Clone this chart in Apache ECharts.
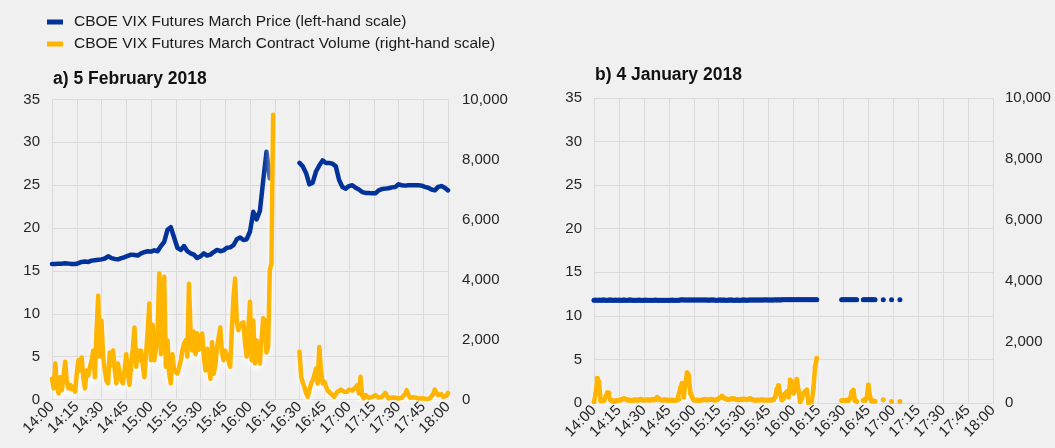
<!DOCTYPE html>
<html>
<head>
<meta charset="utf-8">
<script src="https://cdn.jsdelivr.net/npm/echarts@6/dist/echarts.min.js"></script>
<style>
  html, body { margin: 0; background: #f0f0f0; }
  #chart { width: 1055px; height: 448px; }
</style>
</head>
<body>
<div id="chart"></div>
<script>
// minutes after 14:00; price every 2 min, volume every minute (null = trading halt / no trades)
var PRICE_NAME = 'CBOE VIX Futures March Price (left-hand scale)';
var VOL_NAME = 'CBOE VIX Futures March Contract Volume (right-hand scale)';
var TIME_TICKS = ['14:00', '14:15', '14:30', '14:45', '15:00', '15:15', '15:30', '15:45', '16:00',
  '16:15', '16:30', '16:45', '17:00', '17:15', '17:30', '17:45', '18:00'];

// a) 5 February 2018
var febPrice = [
  15.8, 15.8, 15.85, 15.85, 15.9, 15.85, 15.8, 15.8, 15.9, 16.05,
  16.1, 16.05, 16.2, 16.25, 16.3, 16.35, 16.45, 16.7, 16.5, 16.4,
  16.35, 16.5, 16.6, 16.75, 16.9, 16.85, 16.8, 17.05, 17.2, 17.3,
  17.25, 17.4, 17.3, 17.9, 18.4, 19.8, 20.1, 18.9, 17.7, 17.45,
  17.9, 17.3, 17.05, 16.9, 16.5, 16.7, 17.05, 16.8, 16.9, 17.2,
  17.45, 17.3, 17.4, 17.7, 17.75, 18.0, 18.7, 18.9, 18.6, 18.7,
  19.6, 21.9, 21.0, 22.0, 25.5, 28.9, 25.8,
  null, null, null, null, null, null, null, null,
  27.6, 27.2, 26.4, 25.1, 25.3, 26.6, 27.3, 27.9, 27.6, 27.6,
  27.5, 27.2, 25.6, 24.8, 24.6, 24.9, 25.0, 24.7, 24.5, 24.2,
  24.1, 24.1, 24.05, 24.05, 24.4, 24.55, 24.6, 24.65, 24.75, 24.8,
  25.1, 25.0, 24.95, 25.0, 25.0, 25.0, 25.0, 24.95, 24.8, 24.7,
  24.5, 24.4, 24.8, 24.9, 24.7, 24.4
];
var febVolume = [
  690, 370, 1200, 430, 200, 740, 310, 800, 1260, 570,
  370, 490, 340, 430, 260, 860, 1310, 970, 1400, 710,
  370, 970, 800, 1090, 1290, 1630, 740, 2290, 3460, 1430,
  2630, 1430, 970, 630, 540, 1570, 1140, 1630, 1000, 540,
  1200, 860, 630, 540, 1000, 1510, 860, 490, 1200, 1710,
  2400, 1090, 1630, 1310, 1630, 1140, 740, 1510, 2290, 3200,
  1310, 2490, 1310, 1710, 2310, 4200, 1510, 2570, 4090, 1090,
  1970, 860, 540, 1510, 970, 910, 860, 860, 1290, 1630,
  1860, 1970, 1430, 3860, 2290, 1630, 2260, 1510, 2200, 1660,
  1630, 2200, 1430, 970, 1690, 1140, 690, 1910, 860, 1140,
  1740, 1710, 2400, 1570, 1310, 1630, 1630, 1290, 1090, 2310,
  3430, 4030, 2570, 2310, 2510, 2570, 2570, 1860, 1430, 2400,
  3260, 1310, 2630, 1200, 1970, 1970, 1200, 2000, 2710, 2630,
  1570, 1770, 4310, 4540, 9490,
  null, null, null, null, null, null, null, null, null, null, null, null, null, null, null,
  1590, 760, 560, 420, 200, 90, 320, 530, 640, 820,
  1030, 530, 1750, 980, 530, 600, 640, 300, 250, 200,
  150, 90, 180, 255, 300, 330, 370, 260, 200, 260,
  330, 370, 300, 255, 400, 480, 200, 755, 120, 35,
  145, 100, 60, 35, 80, 110, 145, 100, 60, 35,
  90, 150, 220, 120, 35, 50, 70, 90, 60, 40,
  35, 40, 55, 65, 180, 310, 150, 60, 35, 80,
  110, 50, 10, 30, 55, 40, 20, 10, 30, 40,
  45, 180, 330, 220, 145, 160, 180, 90, 35, 120,
  220
];

// b) 4 January 2018 (every minute)
var janPrice = [
  11.8, 11.82, 11.8, 11.81, 11.8, 11.83, 11.82, 11.8, 11.8, 11.81, 11.82, 11.8, 11.8, 11.81, 11.8,
  11.82, 11.8, 11.8, 11.81, 11.8, 11.8, 11.82, 11.81, 11.8, 11.8, 11.79, 11.8, 11.81, 11.8, 11.8,
  11.8, 11.81, 11.8, 11.8, 11.79, 11.8, 11.8, 11.81, 11.8, 11.8, 11.8, 11.79, 11.8, 11.8, 11.8,
  11.8, 11.8, 11.81, 11.8, 11.79, 11.8, 11.8, 11.82, 11.84, 11.83, 11.82, 11.81, 11.82, 11.83, 11.82,
  11.82, 11.83, 11.82, 11.81, 11.82, 11.82, 11.83, 11.82, 11.81, 11.8, 11.81, 11.82, 11.81, 11.8, 11.8,
  11.81, 11.82, 11.8, 11.81, 11.8, 11.8, 11.81, 11.82, 11.81, 11.8, 11.8, 11.81, 11.8, 11.8, 11.81,
  11.82, 11.81, 11.8, 11.81, 11.82, 11.82, 11.83, 11.82, 11.81, 11.82, 11.83, 11.82, 11.83, 11.84, 11.83,
  11.82, 11.83, 11.82, 11.83, 11.84, 11.83, 11.84, 11.83, 11.84, 11.85, 11.84, 11.85, 11.84, 11.85, 11.84,
  11.85, 11.84, 11.85, 11.84, 11.85, 11.85, 11.84, 11.85, 11.84, 11.85, 11.85, 11.84, 11.85, 11.85, 11.85,
  null, null, null, null, null, null, null, null, null, null, null, null, null, null,
  11.85, 11.85, 11.85, 11.84, 11.85, 11.85, 11.85, 11.85, 11.85, 11.85,
  null, null, null,
  11.85, 11.85, 11.85, 11.85, 11.85, 11.85, 11.85, 11.85,
  null, null, null, null, 11.85, null, null, null, null, 11.85, null, null, null, null, 11.85
];
var janVolume = [
  40, 300, 810, 700, 80, 60, 80, 200, 340, 330, 100, 60, 60, 70, 80,
  90, 100, 120, 150, 120, 100, 100, 80, 90, 100, 110, 90, 100, 120, 100,
  90, 100, 110, 90, 100, 120, 100, 110, 185, 120, 100, 90, 100, 110, 90,
  100, 90, 100, 80, 90, 100, 120, 500, 645, 200, 640, 995, 900, 320, 200,
  100, 90, 100, 80, 90, 100, 110, 120, 100, 110, 120, 110, 100, 90, 110,
  150, 180, 230, 180, 140, 120, 110, 130, 150, 140, 130, 110, 100, 120, 110,
  130, 120, 110, 120, 150, 110, 100, 90, 100, 90, 100, 110, 100, 90, 100,
  90, 100, 100, 110, 200, 450, 570, 300, 100, 150, 300, 370, 200, 755, 700,
  320, 500, 775, 400, 45, 150, 320, 380, 430, 10, 30, 45, 500, 1190, 1465,
  null, null, null, null, null, null, null, null, null, null, null, null, null, null,
  80, 80, 70, 100, 80, 150, 350, 420, 80, 50,
  null, null, null,
  90, 80, 150, 590, 200, 60, 70, 60,
  null, null, null, null, 110, null, null, null, null, 50, null, null, null, null, 50
];

var BLUE = '#003299';
var YELLOW = '#ffb400';
var INK = '#262626';
var GRID = '#dadada';
var FONT = '"Liberation Sans", Arial, sans-serif';

function pairs(arr, step) {
  return arr.map(function (v, i) { return [i * step, v]; });
}
function timeLabel(m) { return TIME_TICKS[Math.round(m / 15)] || ''; }
function thousands(v) { return v.toLocaleString('en-US'); }

function xAxis(gridIndex) {
  return {
    type: 'value', gridIndex: gridIndex, min: 0, max: 240, interval: 15,
    axisLine: { lineStyle: { color: GRID } },
    axisTick: { show: false },
    axisLabel: { rotate: 45, margin: 5, fontSize: 15, color: INK, fontFamily: FONT, formatter: timeLabel },
    splitLine: { lineStyle: { color: GRID } }
  };
}
function leftAxis(gridIndex) {
  return {
    type: 'value', gridIndex: gridIndex, min: 0, max: 35, interval: 5,
    axisLine: { show: false }, axisTick: { show: false },
    axisLabel: { fontSize: 15, color: INK, fontFamily: FONT, margin: 12 },
    splitLine: { lineStyle: { color: GRID } }
  };
}
function rightAxis(gridIndex, margin) {
  return {
    type: 'value', gridIndex: gridIndex, position: 'right', min: 0, max: 10000, interval: 2000,
    axisLine: { show: false }, axisTick: { show: false },
    axisLabel: { fontSize: 15, color: INK, fontFamily: FONT, margin: margin, formatter: thousands },
    splitLine: { show: false }
  };
}
var glow = { shadowColor: 'rgba(255,255,255,0.95)', shadowBlur: 7, shadowOffsetY: 4 };
var titleStyle = { fontSize: 17.5, fontWeight: 'bold', color: '#111', fontFamily: FONT };

var option = {
  animation: false,
  backgroundColor: '#f0f0f0',
  textStyle: { fontFamily: FONT },
  title: [
    { text: 'a) 5 February 2018', left: 48, top: 65, textStyle: titleStyle },
    { text: 'b) 4 January 2018', left: 590, top: 61, textStyle: titleStyle }
  ],
  legend: {
    orient: 'vertical', left: 42, top: 9, itemWidth: 16, itemHeight: 5, itemGap: 6, icon: 'rect',
    textStyle: { fontSize: 15.5, color: '#1a1a1a', fontFamily: FONT, padding: [0, 0, 0, 6] },
    data: [PRICE_NAME, VOL_NAME]
  },
  grid: [
    { left: 52, top: 99.5, width: 396, height: 300 },
    { left: 594, top: 98, width: 399, height: 305 }
  ],
  xAxis: [xAxis(0), xAxis(1)],
  yAxis: [leftAxis(0), rightAxis(0, 14), leftAxis(1), rightAxis(1, 12)],
  series: [
    {
      name: PRICE_NAME, type: 'line', xAxisIndex: 0, yAxisIndex: 0,
      data: pairs(febPrice, 2), showSymbol: false, connectNulls: false,
      lineStyle: { color: BLUE, width: 4.5, cap: 'round', join: 'round' },
      itemStyle: { color: BLUE }
    },
    {
      name: VOL_NAME, type: 'line', xAxisIndex: 0, yAxisIndex: 1,
      data: pairs(febVolume, 1), showSymbol: false, connectNulls: false,
      lineStyle: Object.assign({ color: YELLOW, width: 4.5, cap: 'round', join: 'round' }, glow),
      itemStyle: { color: YELLOW }
    },
    {
      name: PRICE_NAME, type: 'line', xAxisIndex: 1, yAxisIndex: 2,
      data: pairs(janPrice, 1), showSymbol: true, showAllSymbol: true, symbol: 'circle', symbolSize: 5,
      connectNulls: false,
      lineStyle: { color: BLUE, width: 4.5, cap: 'round', join: 'round' },
      itemStyle: { color: BLUE }
    },
    {
      name: VOL_NAME, type: 'line', xAxisIndex: 1, yAxisIndex: 3,
      data: pairs(janVolume, 1), showSymbol: true, showAllSymbol: true, symbol: 'circle', symbolSize: 5,
      connectNulls: false,
      lineStyle: Object.assign({ color: YELLOW, width: 4.5, cap: 'round', join: 'round' }, glow),
      itemStyle: { color: YELLOW }
    }
  ]
};

var chart = echarts.init(document.getElementById('chart'), null, { renderer: 'canvas' });
chart.setOption(option);
</script>
</body>
</html>
